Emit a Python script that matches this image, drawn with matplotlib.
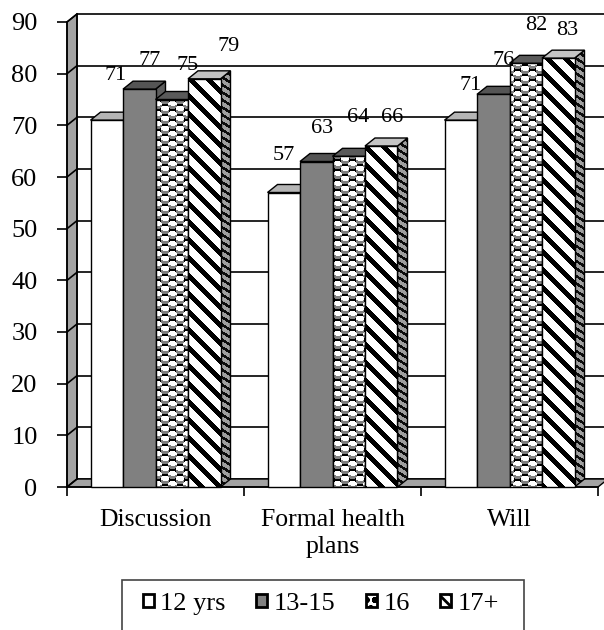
import numpy as np
import matplotlib
matplotlib.use("Agg")
import matplotlib.pyplot as plt
from matplotlib.patches import Polygon, Rectangle, Patch

# ---- data -------------------------------------------------------------
categories = ["Discussion", "Formal health\nplans", "Will"]
series_names = ["12 yrs", "13-15", "16", "17+"]
age_12 = [71, 57, 71]
age_13_15 = [77, 63, 76]
age_16 = [75, 64, 82]
age_17_plus = [79, 66, 83]
y_ticks = list(range(0, 100, 10))

# value-label nudges (pixels: right, up) from each bar's front top
label_nudge = [
    [(9, 45), (10, 29), (16, 34), (24, 32)],
    [(0, 37), (6, 33), (9, 39), (11, 29)],
    [(10, 35), (10, 34), (11, 38), (9, 28)],
]

# ---- figure / axes geometry ----------------------------------------
plt.rcParams["font.family"] = ["Liberation Serif", "DejaVu Serif"]
plt.rcParams["hatch.linewidth"] = 2.0

W_PX, H_PX, DPI = 604, 630, 100
AX_L, AX_R, AX_TOP, AX_BOT = 67, 598, 22, 487   # axes box in pixels
YMAX = 90

fig = plt.figure(figsize=(W_PX / DPI, H_PX / DPI), dpi=DPI, facecolor="white")
ax = fig.add_axes([AX_L / W_PX, 1 - AX_BOT / H_PX,
                   (AX_R - AX_L) / W_PX, (AX_BOT - AX_TOP) / H_PX])
ax.set_facecolor("none")

ncat = len(categories)
ppx = (AX_R - AX_L) / ncat        # pixels per category unit
ppy = (AX_BOT - AX_TOP) / YMAX    # pixels per value unit
DX = 10 / ppx                     # depth shift (right)
DY = 8 / ppy                      # depth shift (up)

# ---- fill textures in figure-pixel space ------------------------------
yy, xx = np.mgrid[0:H_PX, 0:W_PX] + 0.5
stripes = ((xx - yy) % 18) < 7
tex_stripes_front = np.where(stripes, 0.0, 1.0)
tex_stripes_side = np.where(((xx - 1.6 * yy) % 12) < 5, 0.05, 0.62)

px_, py_ = 15.0, 10.0
best_dx = np.full(xx.shape, 99.0)
best_dy = np.full(xx.shape, 99.0)
for ox, oy in [(0.0, 0.0), (7.5, 5.0)]:
    ddx = (xx - ox) % px_ - px_ / 2
    ddy = (yy - oy) % py_ - py_ / 2
    closer = np.hypot(ddx, ddy) < np.hypot(best_dx, best_dy)
    best_dx = np.where(closer, ddx, best_dx)
    best_dy = np.where(closer, ddy, best_dy)
rr = np.hypot(best_dx, best_dy)
tex_spheres = np.zeros(xx.shape)
tex_spheres[rr < 4.4] = 1.0
crescent = (rr < 4.4) & (np.hypot(best_dx - 0.5, best_dy + 1.8) > 3.2) & (best_dy > 0.3)
tex_spheres[crescent] = 0.5

tex_extent = (-AX_L / ppx, (W_PX - AX_L) / ppx,
              (AX_BOT - H_PX) / ppy, AX_BOT / ppy)


def face(verts, color, z, texture=None, lw=1.0):
    poly = Polygon(verts, closed=True,
                   facecolor=("none" if texture is not None else color),
                   edgecolor="black", lw=lw, zorder=z, clip_on=False,
                   joinstyle="miter")
    ax.add_patch(poly)
    if texture is not None:
        im = ax.imshow(texture, cmap="gray", vmin=0, vmax=1,
                       extent=tex_extent, origin="upper", aspect="auto",
                       interpolation="nearest", zorder=z - 0.001)
        im.set_clip_path(poly)
    return poly


# ---- walls, floor and gridlines ---------------------------------------
x_far = ncat + 0.3
wall_grey = "#a3a3a3"
for v in y_ticks:
    ax.plot([DX, x_far], [v + DY, v + DY], color="black", lw=1.2,
            zorder=1, clip_on=False, solid_capstyle="butt")
face([(0, 0), (DX, DY), (DX, YMAX + DY), (0, YMAX)], wall_grey, 1.5)
for v in y_ticks:
    ax.plot([0, DX], [v, v + DY], color="black", lw=1.2, zorder=1.6,
            clip_on=False)
ax.plot([DX, DX], [DY, YMAX + DY], color="black", lw=1.2, zorder=1.6,
        clip_on=False)
face([(0, 0), (ncat, 0), (ncat + DX, DY), (DX, DY)], wall_grey, 1.5)

# ---- bars -------------------------------------------------------------
values = [age_12, age_13_15, age_16, age_17_plus]
front_style = [("white", None), ("#808080", None),
               (None, tex_spheres), (None, tex_stripes_front)]
top_style = ["#b5b5b5", "#555555", "#5a5a5a", "#c4c4c4"]
side_style = [("#9a9a9a", None), ("#5e5e5e", None),
              ("#4a4a4a", None), (None, tex_stripes_side)]

bar_w = 32.5 / ppx
n_ser = len(values)
for i in range(ncat):
    for j in range(n_ser):
        v = values[j][i]
        xc = i + 0.5 + (j - (n_ser - 1) / 2) * bar_w
        xl, xr = xc - bar_w / 2, xc + bar_w / 2
        z = 3 + j * 0.1
        sc, st = side_style[j]
        face([(xr, 0), (xr, v), (xr + DX, v + DY), (xr + DX, DY)], sc, z, st)
        face([(xl, v), (xr, v), (xr + DX, v + DY), (xl + DX, v + DY)],
             top_style[j], z + 0.03)
        fc, ft = front_style[j]
        face([(xl, 0), (xr, 0), (xr, v), (xl, v)], fc, z + 0.06, ft)
        ndx, ndy = label_nudge[i][j]
        ax.annotate(f"{v}", xy=(xc, v), xytext=(ndx * 0.72, ndy * 0.72),
                    textcoords="offset points", ha="center", va="center",
                    fontsize=16, zorder=10, annotation_clip=False)

# ---- axes, ticks, labels ----------------------------------------------
ax.set_xlim(0, ncat)
ax.set_ylim(0, YMAX)
for s in ["top", "right"]:
    ax.spines[s].set_visible(False)
for s in ["left", "bottom"]:
    ax.spines[s].set_linewidth(1.2)
    ax.spines[s].set_zorder(2)

ax.set_yticks(y_ticks)
ax.tick_params(axis="y", direction="out", length=7.2, width=1.2, pad=14,
               labelsize=19)
ax.set_xticks(range(ncat + 1))
ax.set_xticklabels([])
ax.set_xticks([i + 0.5 for i in range(ncat)], minor=True)
ax.set_xticklabels(categories, minor=True, fontsize=18.5, linespacing=1.3)
ax.tick_params(axis="x", which="major", direction="out", length=6.5, width=1.2)
ax.tick_params(axis="x", which="minor", length=0, pad=16)

# ---- legend -------------------------------------------------------------
handles = [
    Patch(facecolor="white", edgecolor="black", lw=2),
    Patch(facecolor="#808080", edgecolor="black", lw=2),
    Patch(facecolor="white", edgecolor="black", lw=2, hatch="oo"),
    Patch(facecolor="white", edgecolor="black", lw=2, hatch="\\\\\\"),
]
fig.legend(handles, series_names, ncol=4, frameon=False, loc="center",
           bbox_to_anchor=(321 / W_PX, 1 - 604 / H_PX), fontsize=19,
           handlelength=0.42, handleheight=0.42, handletextpad=0.25,
           columnspacing=1.15, borderpad=0, borderaxespad=0)
fig.add_artist(Rectangle((122 / W_PX, -0.05), (524 - 122) / W_PX,
                         (H_PX - 580) / H_PX + 0.05,
                         transform=fig.transFigure, fill=False,
                         edgecolor="#444444", lw=1.2))

fig.savefig("out.png", dpi=DPI, facecolor="white")
